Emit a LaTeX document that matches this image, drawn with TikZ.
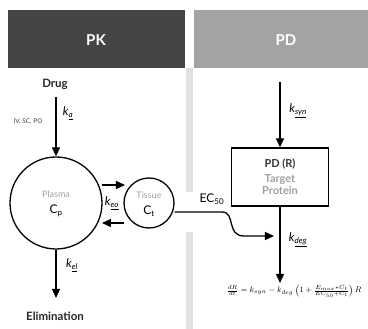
\documentclass[tikz,border=0pt]{standalone}
\usepackage{fontspec}
\setmainfont{Lato}
\usetikzlibrary{arrows.meta,positioning}
\definecolor{pkgray}{HTML}{454545}
\definecolor{pdgray}{HTML}{A3A3A3}
\definecolor{lblgray}{HTML}{A0A0A0}
\definecolor{sepgray}{HTML}{E2E2E2}
\tikzset{
  flow/.style={line width=1.3pt,-{Triangle[length=9pt,width=8pt]}},
  pool/.style={circle,draw,line width=1.3pt,inner sep=0pt},
  head/.style={text=white,font=\bfseries\fontsize{15}{18}\selectfont},
  lbl/.style={font=\bfseries\fontsize{11.5}{14}\selectfont,text=black!85},
  rate/.style={font=\fontsize{12}{14}\selectfont}
}
\newcommand{\krate}[1]{\textit{k}\textsubscript{\underline{\textit{#1}}}}
\begin{document}
\begin{tikzpicture}[x=1pt,y=-1pt]
  \useasboundingbox (0,0) rectangle (368,329);
  % header bars
  \fill[pkgray] (8,10) rectangle (185,68);
  \fill[pdgray] (194,10) rectangle (368,68);
  \node[head] (pk) at (96,40) {PK};
  \node[head] (pd) at (286,40) {PD};
  % separator strip, open where the effect line passes
  \fill[sepgray] (186,68) rectangle (193,192);
  \fill[sepgray] (186,232) rectangle (193,329);
  % PK side
  \node[lbl] (drug) at (55,84) {Drug};
  \node[pool,minimum size=92pt] (plasma) at (56,203) {};
  \node[text=lblgray,font=\fontsize{9}{10}\selectfont] (plname) at (56,194) {Plasma};
  \node[font=\fontsize{12}{14}\selectfont] (cp) at (56,211) {C\textsubscript{p}};
  \coordinate (dose) at (56,97);
  \draw[flow] (dose) -- (plasma.north);
  \node[font=\fontsize{6.5}{8}\selectfont,text=black!75] (route) at (28,122) {IV, SC, PO};
  \node[rate] (ka) at (68,113) {\krate{a}};
  \node[pool,minimum size=50pt] (tissue) at (149,203) {};
  \node[text=lblgray,font=\fontsize{9}{10}\selectfont] (tsname) at (149,195) {Tissue};
  \node[font=\fontsize{12}{14}\selectfont] (ct) at (149,211) {C\textsubscript{t}};
  \coordinate (inA) at (102,185);
  \coordinate (inB) at (125,185);
  \coordinate (outA) at (124,223);
  \coordinate (outB) at (102,223);
  \draw[flow] (inA) -- (inB);
  \draw[flow] (outA) -- (outB);
  \node[rate] (keo) at (112,203) {\krate{eo}};
  \node[lbl] (elim) at (55,316) {Elimination};
  \coordinate (elimend) at (56,298);
  \draw[flow] (plasma.south) -- (elimend);
  \node[rate] (kel) at (72,265) {\krate{el}};
  % PD side
  \coordinate (syn) at (280,82);
  \node[draw,line width=1.3pt,minimum width=97pt,minimum height=58pt] (resp) at (280,177) {};
  \node[font=\bfseries\fontsize{11}{13}\selectfont,text=black!80] (pdr) at (280,164) {PD (R)};
  \node[align=center,font=\bfseries\fontsize{11}{13}\selectfont,text=lblgray] (target) at (280,185) {Target\\[-1pt]Protein};
  \draw[flow] (syn) -- (resp.north);
  \node[rate] (ksyn) at (298,111) {\krate{syn}};
  \node[font=\fontsize{8}{9}\selectfont] (eqn) at (294,291)
    {$\frac{dR}{dt}=k_{syn}-k_{deg}\left(1+\frac{E_{max}*C_t}{EC_{50}+C_t}\right)R$};
  \coordinate (degend) at (280,283);
  \draw[flow] (resp.south) -- (degend);
  \node[rate] (kdeg) at (298,240) {\krate{deg}};
  % drug effect on degradation
  \node[font=\fontsize{12}{14}\selectfont] (ec) at (212,199) {EC\textsubscript{50}};
  \coordinate (effect) at (274,236);
  \draw[flow] (tissue.east) ++(0,9) -- (222,212)
    .. controls (236,212) and (226,236) .. (244,236) -- (effect);
\end{tikzpicture}
\end{document}
